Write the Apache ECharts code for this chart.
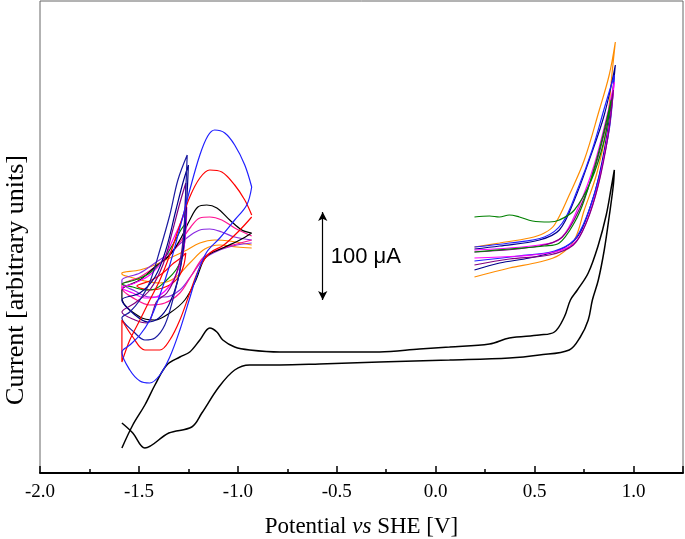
<!DOCTYPE html>
<html><head><meta charset="utf-8">
<script src="https://cdn.jsdelivr.net/npm/echarts@6/dist/echarts.min.js"></script>
<style>html,body{margin:0;padding:0;background:#fff}#c{width:685px;height:539px}</style>
</head><body><div id="c"></div>
<script>
// Potential (V vs SHE) and current (arbitrary units) pairs
const xTicks = [-2.0, -1.5, -1.0, -0.5, 0.0, 0.5, 1.0];

const blackMain = [[-1.586,25],[-1.531,48],[-1.470,68],[-1.419,88],[-1.359,108],[-1.293,116],[-1.243,121],[-1.192,133],[-1.142,145],[-1.106,141],[-1.076,133],[-1.016,126],[-0.940,123],[-0.788,121],[-0.587,121],[-0.284,121],[-0.082,124],[0.070,126],[0.272,129],[0.372,135],[0.524,138],[0.600,141],[0.650,156],[0.681,173],[0.716,183],[0.771,200],[0.822,228],[0.862,258],[0.887,285],[0.903,303],
 [0.898,288],[0.878,258],[0.852,223],[0.822,193],[0.792,173],[0.771,153],[0.731,136],[0.675,123],[0.524,118],[0.372,115],[0.070,113],[-0.284,111],[-0.587,109],[-0.788,108],[-0.940,108],[-1.016,103],[-1.096,86],[-1.182,60],[-1.233,46],[-1.349,40],[-1.470,25],[-1.531,40],[-1.586,50]];

const rightOrange = [[0.196,226],[0.323,230],[0.474,235],[0.549,240],[0.600,248],[0.675,278],[0.751,313],[0.827,363],[0.877,398],[0.908,431],[0.893,403],[0.862,343],[0.812,298],[0.751,263],[0.701,233],[0.625,218],[0.524,211],[0.373,205],[0.196,196]];
const rightNavy = [[0.196,224],[0.323,227],[0.524,233],[0.625,243],[0.701,273],[0.776,313],[0.852,358],[0.908,408],[0.877,353],[0.827,298],[0.776,263],[0.716,236],[0.625,223],[0.474,215],[0.323,210],[0.196,203]];
const rightBlue = [[0.196,226],[0.373,230],[0.549,236],[0.640,250],[0.716,283],[0.791,323],[0.857,368],[0.903,398],[0.877,343],[0.822,293],[0.766,258],[0.700,233],[0.600,222],[0.420,217],[0.196,212]];
const rightMagenta = [[0.196,223],[0.524,228],[0.635,235],[0.726,268],[0.801,308],[0.867,358],[0.903,391],[0.877,348],[0.827,293],[0.766,253],[0.701,230],[0.600,221],[0.423,217],[0.196,215]];
const rightPurple = [[0.196,221],[0.524,227],[0.640,236],[0.731,266],[0.806,306],[0.872,356],[0.898,383],[0.872,338],[0.822,288],[0.761,250],[0.696,228],[0.575,218],[0.373,214],[0.196,208]];
const rightGreen = [[0.196,221],[0.373,224],[0.549,227],[0.625,230],[0.700,250],[0.751,273],[0.827,323],[0.887,373],[0.852,333],[0.787,293],[0.701,263],[0.625,253],[0.574,251],[0.489,252],[0.423,256],[0.372,258],[0.322,256],[0.272,257],[0.196,256]];

// full loops, -0.93 V to -1.59 V
const leftBlue = [[-0.930,286],[-0.955,268],[-1.016,253],[-1.091,235],[-1.157,221],[-1.202,201],[-1.243,175],[-1.293,143],[-1.344,116],[-1.394,98],[-1.445,90],[-1.495,92],[-1.546,103],[-1.586,121],
 [-1.546,128],[-1.495,138],[-1.445,153],[-1.394,178],[-1.344,208],[-1.293,245],[-1.243,283],[-1.192,318],[-1.152,337],[-1.117,343],[-1.066,340],[-1.016,328],[-0.965,308],[-0.930,286]];
const leftRed = [[-0.930,256],[-0.990,243],[-1.071,228],[-1.142,220],[-1.192,206],[-1.243,180],[-1.293,153],[-1.344,133],[-1.394,123],[-1.470,123],[-1.531,136],[-1.586,153],
 [-1.586,111],[-1.546,133],[-1.495,153],[-1.445,173],[-1.394,193],[-1.344,218],[-1.293,248],[-1.243,276],[-1.192,295],[-1.142,303],[-1.081,301],[-1.016,288],[-0.965,273],[-0.930,258]];
const leftBlack = [[-0.930,240],[-0.990,233],[-1.076,225],[-1.162,216],[-1.212,193],[-1.268,173],[-1.344,160],[-1.419,153],[-1.495,156],[-1.586,175],
 [-1.586,183],[-1.495,193],[-1.419,206],[-1.344,218],[-1.293,233],[-1.243,253],[-1.202,266],[-1.157,268],[-1.106,265],[-1.041,253],[-0.980,243],[-0.930,240]];
const leftPink = [[-0.930,233],[-1.005,229],[-1.091,224],[-1.172,216],[-1.233,198],[-1.293,180],[-1.369,170],[-1.445,168],[-1.520,174],[-1.586,185],
 [-1.586,188],[-1.495,196],[-1.419,206],[-1.344,218],[-1.288,232],[-1.238,246],[-1.192,255],[-1.142,256],[-1.081,253],[-1.016,245],[-0.930,237]];
const leftViolet = [[-0.930,230],[-1.005,228],[-1.091,223],[-1.172,214],[-1.233,198],[-1.293,183],[-1.369,176],[-1.445,176],[-1.520,182],[-1.586,190],
 [-1.586,193],[-1.495,200],[-1.419,210],[-1.344,220],[-1.288,230],[-1.238,238],[-1.192,243],[-1.142,244],[-1.081,241],[-1.016,236],[-0.930,233]];
const leftOrange = [[-0.930,225],[-1.005,226],[-1.091,228],[-1.167,224],[-1.243,210],[-1.319,195],[-1.394,190],[-1.470,192],[-1.546,196],[-1.586,199],
 [-1.586,200],[-1.495,203],[-1.419,208],[-1.344,215],[-1.268,222],[-1.192,230],[-1.117,233],[-1.041,232],[-0.930,228]];

// partial loops, switched at about -1.26 V
const leftNavy1 = [[-1.256,318],[-1.263,283],[-1.273,238],[-1.293,203],[-1.329,173],[-1.369,148],[-1.419,135],[-1.470,133],[-1.520,140],[-1.586,155],
 [-1.546,161],[-1.495,173],[-1.445,191],[-1.394,223],[-1.344,258],[-1.303,293],[-1.256,318]];
const leftNavy2 = [[-1.250,308],[-1.258,273],[-1.273,228],[-1.303,193],[-1.349,168],[-1.399,155],[-1.455,151],[-1.520,158],[-1.586,173],
 [-1.495,180],[-1.419,196],[-1.364,223],[-1.313,263],[-1.278,290],[-1.250,308]];
const leftPurple = [[-1.263,290],[-1.268,258],[-1.283,223],[-1.313,198],[-1.359,180],[-1.409,172],[-1.460,150],[-1.520,153],[-1.586,161],
 [-1.520,170],[-1.445,183],[-1.379,208],[-1.329,243],[-1.293,270],[-1.263,290]];
const leftMagenta = [[-1.258,266],[-1.263,243],[-1.278,218],[-1.308,200],[-1.354,185],[-1.414,176],[-1.470,175],[-1.531,180],[-1.586,185],
 [-1.520,190],[-1.445,198],[-1.379,213],[-1.324,235],[-1.283,253],[-1.258,266]];
const leftGreen = [[-1.263,250],[-1.268,233],[-1.283,215],[-1.313,203],[-1.359,193],[-1.419,184],[-1.470,183],[-1.531,186],[-1.586,189],
 [-1.520,193],[-1.445,200],[-1.379,213],[-1.324,230],[-1.288,243],[-1.263,250]];
const leftRedSmall = [[-1.263,220],[-1.273,208],[-1.293,198],[-1.329,190],[-1.379,185],[-1.440,183],[-1.510,187],
 [-1.445,192],[-1.379,200],[-1.324,210],[-1.288,215],[-1.263,220]];

const scaleBar = [[-0.571,261],[-0.571,173]];
</script>
<script>
const chart = echarts.init(document.getElementById('c'));
function ln(name, data, color, w) {
  return {name, type:'line', data, smooth:0.35, showSymbol:false, symbol:'none',
    lineStyle:{color, width:w||1.2}, itemStyle:{color}, z:3, silent:true};
}
chart.setOption({
  animation:false,
  grid:{left:40, right:2, top:1, bottom:66, outerBoundsMode:'none', containLabel:false,
    show:true, borderColor:'#666', borderWidth:1},
  xAxis:{type:'value', min:-2.0, max:1.25, interval:0.5,
    axisLine:{onZero:false, lineStyle:{color:'#000', width:2}},
    axisTick:{inside:true, length:7, lineStyle:{color:'#000', width:1.5}},
    minorTick:{show:true, splitNumber:2, length:4, lineStyle:{color:'#000', width:1.5}},
    splitLine:{show:false},
    axisLabel:{color:'#000', fontFamily:'Liberation Serif', fontSize:19, margin:10,
      formatter:v => xTicks.indexOf(v) >= 0 ? v.toFixed(1) : ''},
    name:'{n|Potential }{i|vs}{n| SHE [V]}', nameLocation:'middle', nameGap:42,
    nameTextStyle:{rich:{n:{fontFamily:'Liberation Serif', fontSize:23, color:'#000'},
      i:{fontStyle:'italic', fontFamily:'Liberation Serif', fontSize:23, color:'#000'}}}
  },
  yAxis:{type:'value', min:0, max:472,
    axisLine:{show:false, onZero:false}, axisTick:{show:false},
    axisLabel:{show:false}, splitLine:{show:false}
  },
  series:[
    ln('main', blackMain, '#000', 1.5),
    ln('rOrange', rightOrange, '#ff8c00'),
    ln('rNavy', rightNavy, '#00008b'),
    ln('rBlue', rightBlue, '#2020ff'),
    ln('rMagenta', rightMagenta, '#ff00ff'),
    ln('rPurple', rightPurple, '#800080'),
    ln('rGreen', rightGreen, '#008000'),
    ln('lOrange', leftOrange, '#ff8c00'),
    ln('lViolet', leftViolet, '#8a2be2'),
    ln('lPink', leftPink, '#ff1493'),
    ln('lBlack', leftBlack, '#000'),
    ln('lRedSmall', leftRedSmall, '#ff0000'),
    ln('lGreen', leftGreen, '#008000'),
    ln('lMagenta', leftMagenta, '#ff00ff'),
    ln('lPurple', leftPurple, '#800080'),
    ln('lNavy2', leftNavy2, '#00008b'),
    ln('lNavy1', leftNavy1, '#1a1aa0'),
    ln('lRed', leftRed, '#ff0000'),
    ln('lBlue', leftBlue, '#2020ff'),
    {type:'line', data:[], markLine:{silent:true, symbol:['arrow','arrow'], symbolSize:[7,9],
      lineStyle:{color:'#000', width:1.2, type:'solid'}, label:{show:false},
      data:[[{coord:scaleBar[0]},{coord:scaleBar[1]}]]}},
  ]
});
const p = chart.convertToPixel({gridIndex:0}, [scaleBar[0][0], (scaleBar[0][1]+scaleBar[1][1])/2]);
chart.setOption({graphic:[
  {type:'text', x:p[0]+8, y:p[1]+1, style:{text:'100 \u03bcA', fill:'#000',
    font:'22px "Liberation Sans"', textVerticalAlign:'middle'}},
  {type:'text', x:16, y:280, rotation:Math.PI/2, style:{text:'Current [arbitrary units]', fill:'#000',
    font:'26px "Liberation Serif"', textAlign:'center', textVerticalAlign:'middle'}}
]});
</script></body></html>
